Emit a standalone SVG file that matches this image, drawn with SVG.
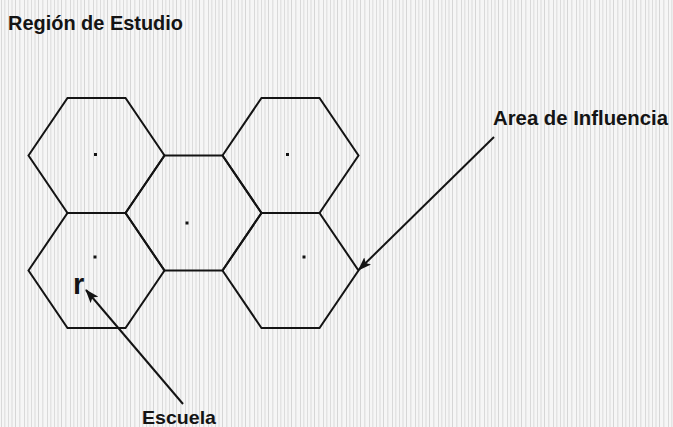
<svg xmlns="http://www.w3.org/2000/svg" width="673" height="427" viewBox="0 0 673 427">
<style>
.hex{fill:none;stroke:#141414;stroke-width:2;stroke-linejoin:miter}
.dot{fill:#141414}
.lbl{font-family:"Liberation Sans",Arial,sans-serif;font-weight:bold;fill:#141414}
.conn{stroke:#141414;stroke-width:2;fill:none}
</style>
<defs>
<pattern id="bg" width="23" height="427" patternUnits="userSpaceOnUse">
<rect width="23" height="427" fill="#f6f6f6"/>
<rect x="1" width="1" height="427" fill="#d9d9d9"/>
<rect x="4" width="1.5" height="427" fill="#e4e4e4"/>
<rect x="8" width="1" height="427" fill="#dcdcdc"/>
<rect x="11" width="2" height="427" fill="#e8e8e8"/>
<rect x="15" width="1" height="427" fill="#d6d6d6"/>
<rect x="19" width="1.5" height="427" fill="#e2e2e2"/>
</pattern>
<marker id="ah" viewBox="0 0 14 10" refX="13" refY="5" markerWidth="14" markerHeight="10" markerUnits="userSpaceOnUse" orient="auto">
<path d="M0,0 L14,5 L0,10 L3,5 Z" fill="#141414"/>
</marker>
</defs>
<rect width="673" height="427" fill="url(#bg)"/>
<g id="title"><text class="lbl" x="8" y="30" font-size="21" textLength="175" lengthAdjust="spacingAndGlyphs">Región de Estudio</text></g>
<g id="hex-top-left"><polygon class="hex" points="28.5,155.5 67.5,98 125.5,98 164.5,155.5 125.5,213 67.5,213"/><rect class="dot" x="94" y="153" width="3" height="3"/></g>
<g id="hex-middle"><polygon class="hex" points="125.5,213 164.5,155.5 222.5,155.5 261.5,213 222.5,270.5 164.5,270.5"/><rect class="dot" x="185.5" y="221.5" width="3" height="3"/></g>
<g id="hex-top-right"><polygon class="hex" points="222.5,155.5 261.5,98 319.5,98 358.5,155.5 319.5,213 261.5,213"/><rect class="dot" x="286" y="153" width="3" height="3"/></g>
<g id="hex-bottom-left"><polygon class="hex" points="28.5,270.5 67.5,213 125.5,213 164.5,270.5 125.5,328 67.5,328"/><rect class="dot" x="93.5" y="255.5" width="3" height="3"/></g>
<g id="hex-bottom-right"><polygon class="hex" points="222.5,270.5 261.5,213 319.5,213 358.5,270.5 319.5,328 261.5,328"/><rect class="dot" x="302.5" y="255.5" width="3" height="3"/></g>
<g id="label-r"><text class="lbl" x="73" y="294" font-size="29">r</text></g>
<g id="label-area"><text class="lbl" x="493" y="125" font-size="20" textLength="175" lengthAdjust="spacingAndGlyphs">Area de Influencia</text></g>
<g id="label-escuela"><text class="lbl" x="142" y="424" font-size="19" textLength="74" lengthAdjust="spacingAndGlyphs">Escuela</text></g>
<g id="connectors">
<line class="conn" x1="183" y1="404" x2="86" y2="290" marker-end="url(#ah)"/>
<line class="conn" x1="494" y1="137" x2="358.5" y2="270" marker-end="url(#ah)"/>
</g>
</svg>
